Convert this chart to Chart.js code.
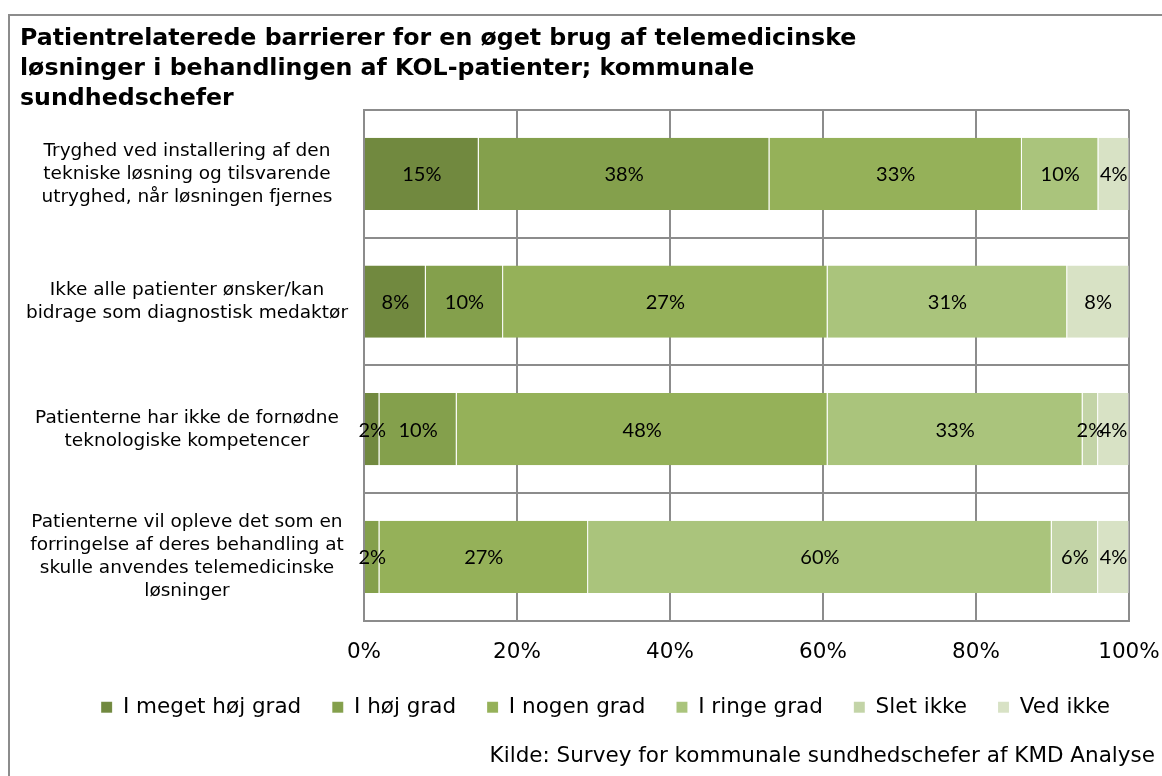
<!DOCTYPE html>
<html>
<head>
<meta charset="utf-8">
<script src="https://cdn.jsdelivr.net/npm/chart.js@4/dist/chart.umd.min.js"></script>
<style>
  html, body { margin: 0; padding: 0; background: #fff; overflow: hidden; }
  #wrap { position: relative; width: 1162px; height: 776px; }
  #frame { position: absolute; left: 8px; top: 14px; width: 1200px; height: 800px; border: 2px solid #8c8c8c; box-sizing: border-box; }
  canvas { position: absolute; left: 0; top: 0; }
</style>
</head>
<body>
<div id="wrap">
  <div id="frame"></div>
  <canvas id="chart" width="1162" height="776"></canvas>
</div>
<script>
const categories = [
  ["Tryghed ved installering af den", "tekniske løsning og tilsvarende", "utryghed, når løsningen fjernes"],
  ["Ikke alle patienter ønsker/kan", "bidrage som diagnostisk medaktør"],
  ["Patienterne har ikke de fornødne", "teknologiske kompetencer"],
  ["Patienterne vil opleve det som en", "forringelse af deres behandling at", "skulle anvendes telemedicinske", "løsninger"]
];
const seriesNames = ["I meget høj grad", "I høj grad", "I nogen grad", "I ringe grad", "Slet ikke", "Ved ikke"];
const seriesColors = ["#71893f", "#84a04c", "#95b159", "#aac47c", "#c3d4a7", "#d8e2c5"];

const megetHoej = [15, 8, 2, 0];
const hoej = [38, 10, 10, 2];
const nogen = [33, 42, 48, 27];
const ringe = [10, 31, 33, 60];
const sletIkke = [0, 0, 2, 6];
const vedIkke = [4, 8, 4, 4];

// printed labels; row 2 of "I nogen grad" is printed as 27% although the bar is wider
const nogenShown = [33, 27, 48, 27];

const xTicks = [0, 20, 40, 60, 80, 100];
const source = "Kilde: Survey for kommunale sundhedschefer af KMD Analyse";

const series = [megetHoej, hoej, nogen, ringe, sletIkke, vedIkke];
const shown = [megetHoej, hoej, nogenShown, ringe, sletIkke, vedIkke];
const totals = categories.map((_, j) => series.reduce((s, arr) => s + arr[j], 0));

const datasets = series.map((arr, i) => ({
  label: seriesNames[i],
  data: arr.map((v, j) => v / totals[j] * 100),
  shown: shown[i],
  backgroundColor: seriesColors[i],
  borderColor: "rgba(255,255,255,0.35)",
  borderWidth: { left: 0, right: 1, top: 0, bottom: 0 },
  borderSkipped: false,
  barPercentage: 0.566,
  categoryPercentage: 1
}));

const barLabels = {
  id: "barLabels",
  afterDatasetsDraw(chart) {
    const ctx = chart.ctx;
    ctx.save();
    ctx.font = "20px Lato";
    ctx.fillStyle = "#000";
    ctx.textAlign = "center";
    ctx.textBaseline = "middle";
    chart.data.datasets.forEach((ds, i) => {
      chart.getDatasetMeta(i).data.forEach((bar, j) => {
        const v = ds.shown[j];
        if (!v) return;
        ctx.fillText(v + "%", (bar.x + bar.base) / 2, bar.y + 1);
      });
    });
    ctx.restore();
  }
};

const sourceNote = {
  id: "sourceNote",
  afterLayout(chart) {
    // legend sits a little right of centre in the original
    chart.legend.left += 31;
    chart.legend.right += 31;
  },
  afterDraw(chart) {
    const ctx = chart.ctx;
    ctx.save();
    ctx.font = "21.5px 'DejaVu Sans'";
    ctx.fillStyle = "#000";
    ctx.textAlign = "right";
    ctx.textBaseline = "middle";
    ctx.fillText(source, chart.width - 7, 756);
    ctx.restore();
  }
};

const gridColor = "#8c8c8c";

new Chart(document.getElementById("chart"), {
  type: "bar",
  data: { labels: categories, datasets },
  plugins: [barLabels, sourceNote],
  options: {
    indexAxis: "y",
    responsive: false,
    animation: false,
    layout: { padding: { left: 20, right: 33, top: 0, bottom: 48 } },
    plugins: {
      title: {
        display: true,
        align: "start",
        text: [
          "Patientrelaterede barrierer for en øget brug af telemedicinske",
          "løsninger i behandlingen af KOL-patienter; kommunale",
          "sundhedschefer"
        ],
        color: "#000",
        font: { family: "'DejaVu Sans'", size: 23.7, weight: "bold", lineHeight: 30 / 23.7 },
        padding: { top: 24, bottom: -4 }
      },
      legend: {
        position: "bottom",
        labels: {
          color: "#000",
          font: { family: "'DejaVu Sans'", size: 21.5 },
          boxWidth: 11,
          boxHeight: 11,
          padding: 31
        }
      },
      tooltip: { enabled: false }
    },
    scales: {
      x: {
        stacked: true,
        min: 0,
        max: 100,
        afterBuildTicks: axis => { axis.ticks = xTicks.map(v => ({ value: v })); },
        afterFit: axis => { axis.paddingRight = 0; axis.height -= 19; },
        ticks: {
          color: "#000",
          padding: 19,
          font: { family: "'DejaVu Sans'", size: 21.5 },
          callback: v => v + "%"
        },
        grid: { color: gridColor, lineWidth: 2, drawTicks: false },
        border: { color: gridColor, width: 2 }
      },
      y: {
        stacked: true,
        afterFit: axis => { axis.width = 344; },
        ticks: {
          color: "#000",
          padding: 16,
          crossAlign: "center",
          font: { family: "'DejaVu Sans'", size: 18.5, lineHeight: 23 / 18.5 }
        },
        grid: { color: gridColor, lineWidth: 2, drawTicks: false, offset: true },
        border: { color: gridColor, width: 2 }
      }
    }
  }
});
</script>
</body>
</html>
